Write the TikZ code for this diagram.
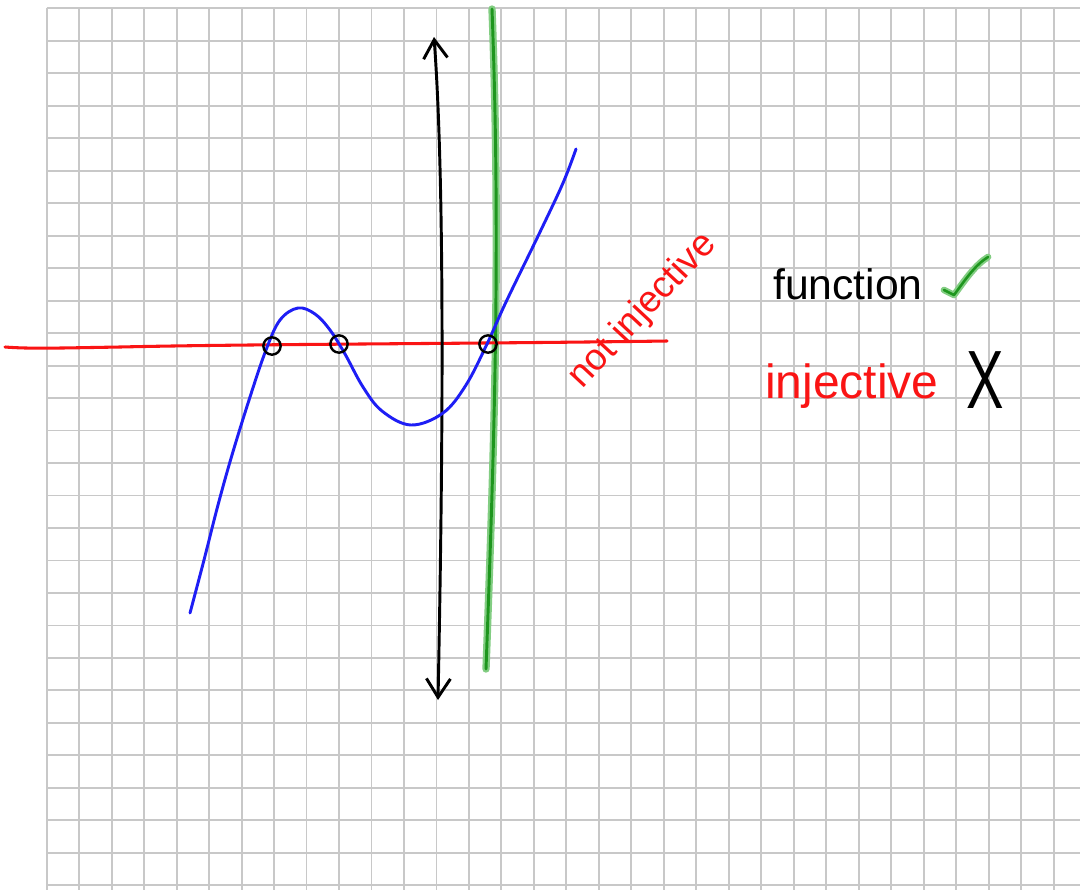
\documentclass[tikz,border=0pt]{standalone}
\usepackage{fontspec}
\setmainfont{Liberation Sans}
\usetikzlibrary{arrows.meta}
\definecolor{gridgray}{RGB}{200,200,200}
\definecolor{penred}{RGB}{250,20,20}
\definecolor{penblue}{RGB}{30,30,245}
\definecolor{hlgreen}{RGB}{130,205,130}
\definecolor{pengreen}{RGB}{30,150,30}
\tikzset{
  gridline/.style={gridgray, line width=1.4pt},
  redpen/.style={penred, line width=2.3pt, line cap=round, line join=round},
  bluepen/.style={penblue, line width=2.2pt, line cap=round, line join=round},
  blackpen/.style={black, line width=2.2pt, line cap=round, line join=round},
  greenhl/.style={hlgreen, line width=5.5pt, line cap=round, line join=round},
  greenpen/.style={pengreen, line width=2.2pt, line cap=round, line join=round},
  ring/.style={draw, black, circle, line width=1.8pt, minimum size=13pt, inner sep=0pt},
  axisarrow/.style={blackpen, {Straight Barb[length=14pt,width=18pt]}-{Straight Barb[length=14pt,width=18pt]}},
}
\begin{document}
\begin{tikzpicture}[x=0.75pt,y=-0.75pt]
\useasboundingbox (0,0) rectangle (1080,890);
\fill[white] (0,0) rectangle (1080,890);
% grid
\foreach \i in {0,...,31} {
  \draw[gridline] ({46.7+32.48*\i},8.3) -- ({46.7+32.48*\i},890);
}
\foreach \j in {0,...,27} {
  \draw[gridline] (46.7,{8.3+32.48*\j}) -- (1080,{8.3+32.48*\j});
}
% green vertical line
\coordinate (gTop) at (492,9);
\coordinate (gBot) at (486,669);
\draw[greenhl] (gTop) .. controls (501,250) and (494,450) .. (gBot);
\draw[greenpen] (gTop) .. controls (501,250) and (494,450) .. (gBot);
% red horizontal line
\coordinate (rL) at (5,347);
\coordinate (rR) at (667,341);
\draw[redpen] (rL) .. controls (30,349) and (60,348) .. (120,347)
  .. controls (250,344) and (450,344) .. (rR);
% black axis
\coordinate (axTop) at (434,37);
\coordinate (axBot) at (438,700);
\draw[axisarrow] (axTop) .. controls (446,200) and (442,500) .. (axBot);
% blue curve
\draw[bluepen] plot[smooth, tension=0.6] coordinates {
 (190,613) (204,560) (218,505) (232,455) (250,397) (266,350) (280,320)
 (298,308) (315,314) (330,330) (345,354) (363,387) (382,411) (411,425)
 (443,413) (466,385) (487,344) (506,302) (540,232) (563,183) (576,149)};
% circles at intersections
\node[ring] (c1) at (272,346) {};
\node[ring] (c2) at (339,344) {};
\node[ring] (c3) at (488,344) {};
% labels
\node[penred, font=\fontsize{28}{28}\selectfont, rotate=47, inner sep=0pt] (notinj) at (643,311) {not injective};
\node[black, anchor=base west, font=\fontsize{32}{32}\selectfont, inner sep=0pt] (func) at (773,299) {function};
\node[penred, anchor=base west, font=\fontsize{36}{36}\selectfont, inner sep=0pt] (inj) at (765,398) {injective};
\node[black, font=\fontsize{62}{62}\selectfont, xscale=0.68, inner sep=0pt] (cross) at (985,380) {X};
% check mark
\coordinate (ck1) at (944,290);
\coordinate (ck2) at (954,295);
\coordinate (ck3) at (988,257);
\draw[greenhl, line width=5pt] (ck1) .. controls (948,292) .. (ck2) .. controls (965,280) and (975,265) .. (ck3);
\draw[greenpen, line width=1.9pt] (ck1) .. controls (948,292) .. (ck2) .. controls (965,280) and (975,265) .. (ck3);
\end{tikzpicture}
\end{document}
